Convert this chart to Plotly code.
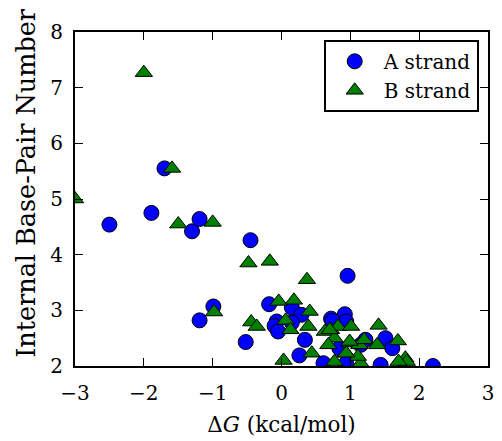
import plotly.graph_objects as go

# Free-energy change (kcal/mol) vs. internal base-pair number, per strand
a_dg = [-2.50, -1.89, -1.70, -1.30, -1.19, -0.45, -0.99, -1.19, -0.52, -0.18,
        0.15, 0.29, -0.07, -0.10, -0.05, 0.15, 0.34, 0.26, 0.96, 0.92,
        0.72, 0.94, 0.74, 0.84, 0.61, 0.94, 1.51, 1.22, 1.61, 1.15, 1.44, 2.20]
a_bp = [4.54, 4.75, 5.55, 4.42, 4.64, 4.26, 3.07, 2.82, 2.43, 3.11,
        3.05, 2.92, 2.80, 2.72, 2.62, 2.78, 2.47, 2.19, 3.62, 2.93,
        2.85, 2.80, 2.81, 2.32, 2.05, 2.05, 2.50, 2.47, 2.32, 2.38, 2.02, 2.00]

b_dg = [-3.00, -2.00, -1.59, -1.50, -1.00, -0.48, -0.17, 0.37, -0.98, -0.44,
        -0.36, -0.04, 0.18, 0.41, 0.06, 0.13, 0.39, 0.44, 0.03, 0.72,
        0.82, 0.63, 0.99, 0.77, 0.68, 0.94, 0.77, 1.13, 1.15, 1.41,
        1.20, 1.39, 1.69, 1.80, 1.82, 1.70, 1.11, 1.01, 0.70, 0.99, 0.94]
b_bp = [5.00, 7.27, 5.55, 4.55, 4.58, 3.85, 3.88, 3.55, 2.97, 2.79,
        2.71, 3.16, 3.18, 2.98, 2.82, 2.65, 2.71, 2.23, 2.10, 2.65,
        2.71, 2.62, 2.41, 2.50, 2.38, 2.23, 2.08, 2.38, 2.05, 2.73,
        2.47, 2.38, 2.45, 2.14, 2.08, 2.08, 2.17, 2.71, 2.65, 2.44, 2.23]

x_ticks = [-3, -2, -1, 0, 1, 2, 3]
y_ticks = [2, 3, 4, 5, 6, 7, 8]

FONT = "DejaVu Serif"

fig = go.Figure()
fig.add_trace(go.Scatter(
    x=a_dg, y=a_bp, mode="markers", name="A strand",
    marker=dict(symbol="circle", size=15, color="#0000ff",
                line=dict(color="black", width=1)),
))
fig.add_trace(go.Scatter(
    x=b_dg, y=b_bp, mode="markers", name="B strand",
    marker=dict(symbol="triangle-up", size=15, color="#008000",
                line=dict(color="black", width=1)),
))

axis_common = dict(
    showgrid=False, zeroline=False,
    showline=True, linecolor="black", linewidth=1.8, mirror="ticks",
    ticks="inside", ticklen=8, tickwidth=1, tickcolor="black",
)

fig.update_xaxes(
    range=[-3, 3], tickvals=x_ticks,
    tickfont=dict(family=FONT, size=20, color="black"),
    title=dict(text="Δ<i>G</i> (kcal/mol)",
               font=dict(family=FONT, size=21.5, color="black"), standoff=13),
    ticklabelstandoff=8,
    **axis_common,
)
fig.update_yaxes(
    range=[2, 8], tickvals=y_ticks,
    tickfont=dict(family=FONT, size=20, color="black"),
    ticklabelstandoff=6,
    **axis_common,
)

# y-axis label placed as a rotated annotation, sitting a little above centre
fig.add_annotation(
    text="Internal Base-Pair Number", textangle=-90,
    xref="paper", yref="paper", x=-0.119, y=0.548,
    xanchor="center", yanchor="middle", showarrow=False,
    font=dict(family=FONT, size=25.5, color="black"),
)

fig.update_layout(
    width=502, height=441,
    margin=dict(l=75, r=8, t=32, b=73),
    plot_bgcolor="white", paper_bgcolor="white",
    font=dict(family=FONT, color="black"),
    legend=dict(
        x=0.978, xanchor="right", y=0.976, yanchor="top",
        bgcolor="white", bordercolor="black", borderwidth=1.8,
        font=dict(family=FONT, size=20, color="black"),
        itemwidth=48, tracegroupgap=0,
    ),
)

fig.write_html("out.html")
